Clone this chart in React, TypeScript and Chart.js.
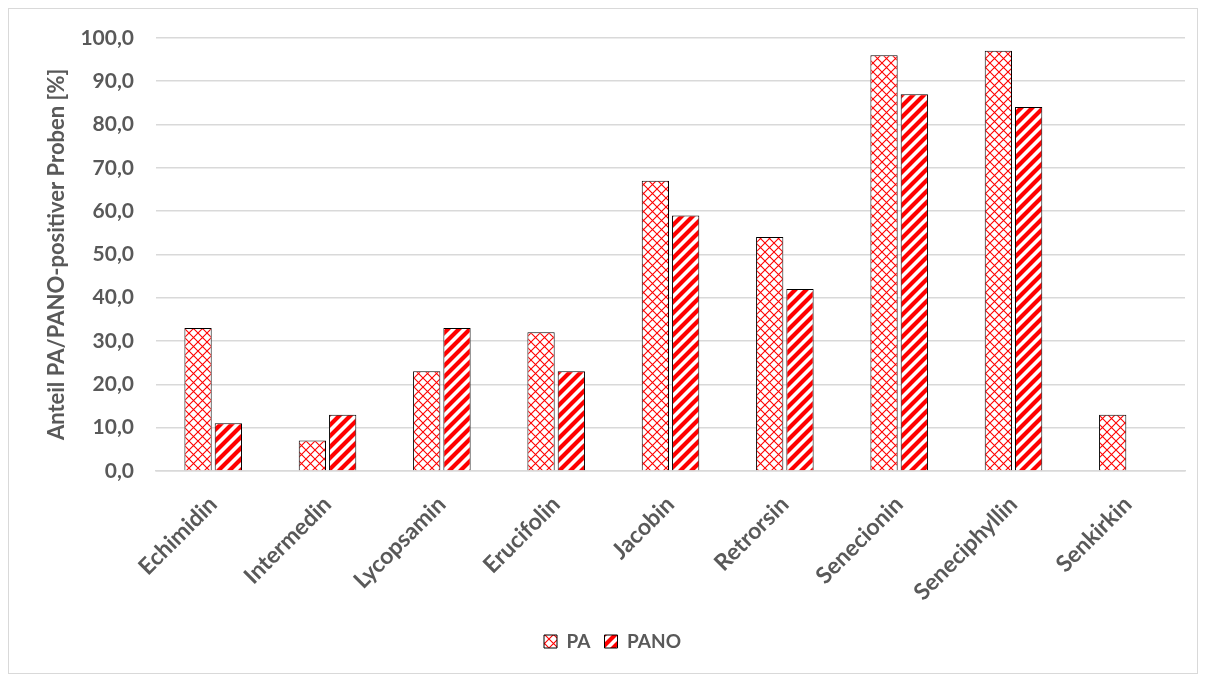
import React, { useEffect, useRef } from "react";
import { Chart, registerables } from "chart.js";

Chart.register(...registerables);

const categories = ["Echimidin", "Intermedin", "Lycopsamin", "Erucifolin", "Jacobin", "Retrorsin", "Senecionin", "Seneciphyllin", "Senkirkin"];
const paValues = [33, 7, 23, 32, 67, 54, 96, 97, 13];
const panoValues = [11, 13, 33, 23, 59, 42, 87, 84, null];
const seriesNames = ["PA", "PANO"];

function makeCrossPattern(): CanvasPattern | string {
  const s = 9;
  const c = document.createElement("canvas");
  c.width = s;
  c.height = s;
  const ctx = c.getContext("2d");
  if (!ctx) return "#fff";
  ctx.fillStyle = "#ffffff";
  ctx.fillRect(0, 0, s, s);
  ctx.strokeStyle = "#ff0000";
  ctx.lineWidth = 1.1;
  ctx.beginPath();
  ctx.moveTo(0, 0);
  ctx.lineTo(s, s);
  ctx.moveTo(0, s);
  ctx.lineTo(s, 0);
  ctx.stroke();
  const p = ctx.createPattern(c, "repeat");
  return p || "#fff";
}

function makeStripePattern(): CanvasPattern | string {
  const s = 11;
  const c = document.createElement("canvas");
  c.width = s;
  c.height = s;
  const ctx = c.getContext("2d");
  if (!ctx) return "#f00";
  ctx.fillStyle = "#ffffff";
  ctx.fillRect(0, 0, s, s);
  ctx.strokeStyle = "#ff0000";
  ctx.lineWidth = 4.2;
  ctx.beginPath();
  ctx.moveTo(-2, s + 2);
  ctx.lineTo(s + 2, -2);
  ctx.moveTo(-2, 2);
  ctx.lineTo(2, -2);
  ctx.moveTo(s - 2, s + 2);
  ctx.lineTo(s + 2, s - 2);
  ctx.stroke();
  const p = ctx.createPattern(c, "repeat");
  return p || "#f00";
}

export default function App() {
  const ref = useRef<HTMLCanvasElement | null>(null);
  useEffect(() => {
    if (!ref.current) return;
    const fontFamily = "Lato, 'Open Sans', sans-serif";
    const chart = new Chart(ref.current, {
      type: "bar",
      data: {
        labels: categories,
        datasets: [
          {
            label: seriesNames[0],
            data: paValues,
            backgroundColor: makeCrossPattern() as any,
            borderColor: "#000000",
            borderWidth: 1,
            barPercentage: 0.9,
            categoryPercentage: 0.53,
          },
          {
            label: seriesNames[1],
            data: panoValues,
            backgroundColor: makeStripePattern() as any,
            borderColor: "#000000",
            borderWidth: 1,
            barPercentage: 0.9,
            categoryPercentage: 0.53,
          },
        ],
      },
      options: {
        animation: false,
        responsive: true,
        maintainAspectRatio: false,
        layout: { padding: { top: 7, right: 12, left: 31, bottom: 12 } },
        plugins: {
          legend: {
            position: "bottom",
            labels: {
              boxWidth: 13,
              boxHeight: 13,
              color: "#595959",
              font: { family: fontFamily, size: 19, weight: "bold" },
              padding: 14,
            },
          },
          tooltip: { enabled: false },
        },
        scales: {
          x: {
            grid: { display: false },
            border: { display: true, color: "#d9d9d9", width: 1.5 },
            ticks: {
              color: "#595959",
              font: { family: fontFamily, size: 23, weight: "bold" },
              minRotation: 45,
              maxRotation: 45,
              padding: 12,
            },
          },
          y: {
            min: 0,
            max: 100,
            border: { display: false },
            grid: { color: "#d9d9d9", lineWidth: 1.5, drawTicks: false },
            ticks: {
              stepSize: 10,
              padding: 22,
              color: "#595959",
              font: { family: fontFamily, size: 21, weight: "bold", lineHeight: 0.65 },
              callback: (v: any) => Number(v).toFixed(1).replace(".", ","),
            },
            title: {
              display: true,
              text: "Anteil PA/PANO-positiver Proben [%]",
              color: "#595959",
              font: { family: fontFamily, size: 22, weight: "bold" },
              padding: { top: 4, bottom: -12 },
            },
          },
        },
      },
    });
    return () => chart.destroy();
  }, []);
  return (
    <div style={{ width: 1188, height: 664, border: "1px solid #d9d9d9", position: "relative" }}>
      <canvas ref={ref} />
    </div>
  );
}
